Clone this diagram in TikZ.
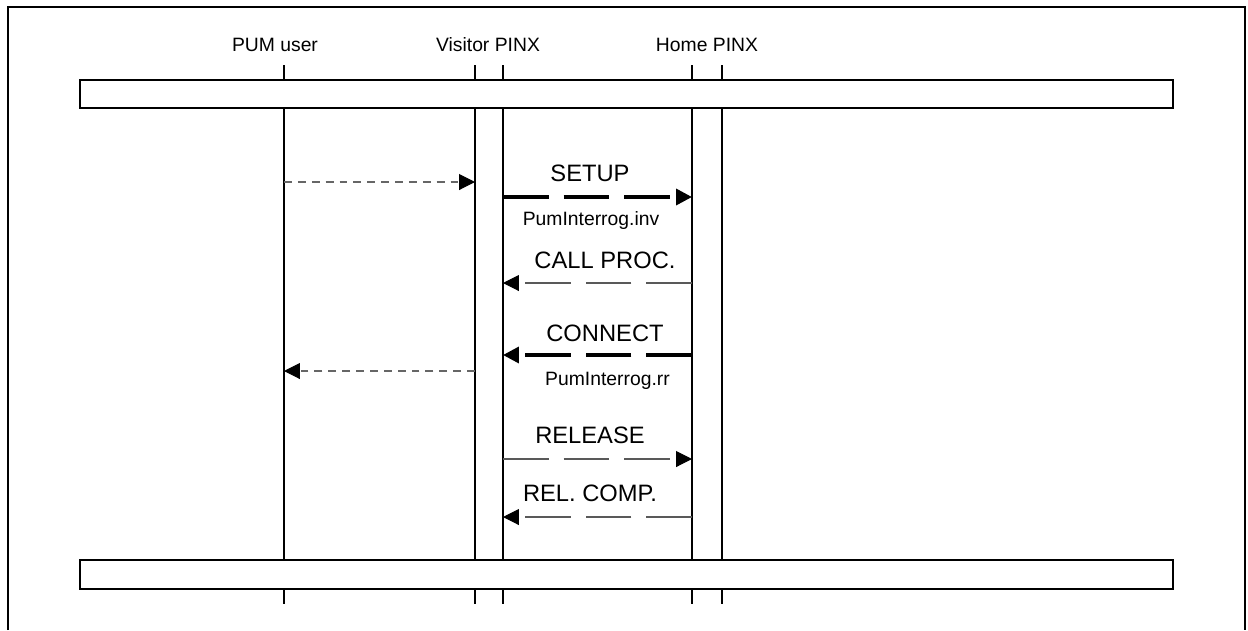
\documentclass[tikz,border=0pt]{standalone}
\usepackage{fontspec}
\setmainfont{Liberation Sans}
\usetikzlibrary{arrows.meta}
\tikzset{
  frame/.style={line width=1.2pt},
  bar/.style={draw,fill=white,line width=1.2pt},
  life/.style={line width=0.9pt},
  tip/.style={-{Triangle[length=9pt,width=9pt,color=black]}},
  msgthick/.style={tip,line width=2pt,dash pattern=on 26pt off 8.5pt},
  msgthin/.style={tip,line width=0.6pt,draw=black!65,dash pattern=on 26pt off 8.5pt},
  localmsg/.style={tip,line width=0.6pt,draw=black!60,dash pattern=on 4.5pt off 3.4pt},
  head/.style={anchor=base,font=\fontsize{11}{13}\selectfont},
  msglbl/.style={anchor=base,font=\fontsize{13.5}{15}\selectfont},
  param/.style={anchor=base,font=\fontsize{11}{13}\selectfont},
}
\begin{document}
\begin{tikzpicture}[x=0.02cm,y=-0.02cm]
  \useasboundingbox (0,0) rectangle (1248,630);
  % outer frame, open at the bottom
  \draw[frame] (8,630) -- (8,7) -- (1245,7) -- (1245,630);

  % lifelines
  \coordinate (pum) at (284,0);
  \coordinate (vis1) at (475,0);
  \coordinate (vis2) at (503,0);
  \coordinate (home1) at (692,0);
  \coordinate (home2) at (722,0);
  \foreach \l in {pum,vis1,vis2,home1,home2}
    \draw[life] (\l |- 0,65) -- (\l |- 0,604);

  \node[head] (pumlbl) at (275,51.7) {PUM user};
  \node[head] (vislbl) at (488,51.7) {Visitor PINX};
  \node[head] (homelbl) at (707,51.7) {Home PINX};

  % top and bottom bars
  \draw[bar] (80,80) rectangle (1173,108);
  \draw[bar] (80,560) rectangle (1173,589);

  % message rows
  \coordinate (m1) at (0,182);
  \coordinate (m2) at (0,197);
  \coordinate (m3) at (0,283);
  \coordinate (m4) at (0,355);
  \coordinate (m5) at (0,371);
  \coordinate (m6) at (0,459);
  \coordinate (m7) at (0,517);

  \draw[localmsg] (pum |- m1) -- (vis1 |- m1);
  \draw[msgthick] (vis2 |- m2) -- (home1 |- m2);
  \draw[msgthin] (home1 |- m3) -- (vis2 |- m3);
  \draw[msgthick] (home1 |- m4) -- (vis2 |- m4);
  \draw[localmsg] (vis1 |- m5) -- (pum |- m5);
  \draw[msgthin] (vis2 |- m6) -- (home1 |- m6);
  \draw[msgthin] (home1 |- m7) -- (vis2 |- m7);

  \node[msglbl] (setup) at (590,181.7) {SETUP};
  \node[param] (inv) at (591,225) {PumInterrog.inv};
  \node[msglbl] (callproc) at (605,268.3) {CALL PROC.};
  \node[msglbl] (connect) at (605,341) {CONNECT};
  \node[param] (rr) at (607.5,385) {PumInterrog.rr};
  \node[msglbl] (release) at (590,443.3) {RELEASE};
  \node[msglbl] (relcomp) at (590,501) {REL. COMP.};
\end{tikzpicture}
\end{document}
